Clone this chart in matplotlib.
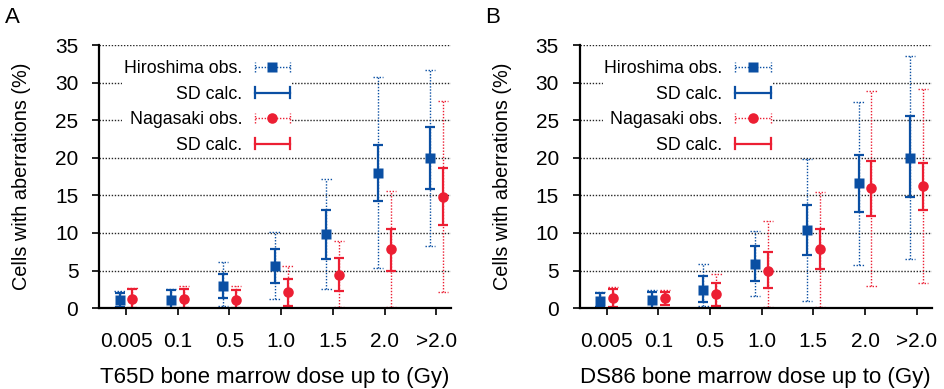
import numpy as np
import matplotlib
matplotlib.use('Agg')
import matplotlib.pyplot as plt
from matplotlib.lines import Line2D
from matplotlib.legend_handler import HandlerBase

plt.rcParams['font.family'] = ['Liberation Sans', 'DejaVu Sans']

doses = ['0.005', '0.1', '0.5', '1.0', '1.5', '2.0', '>2.0']

# T65D dosimetry
t65_hir = [1.07, 1.07, 3.0, 5.6, 9.9, 18.0, 20.0]
t65_hir_sd_lo = [0.2, 0.0, 1.4, 3.4, 6.6, 14.3, 15.9]
t65_hir_sd_hi = [2.0, 2.4, 4.5, 7.9, 13.1, 21.7, 24.1]
t65_hir_obs_lo = [0.1, 0.0, 0.3, 1.2, 2.5, 5.3, 8.3]
t65_hir_obs_hi = [2.3, 2.6, 6.2, 10.1, 17.2, 30.7, 31.7]

t65_nag = [1.25, 1.15, 1.07, 2.1, 4.4, 7.8, 14.8]
t65_nag_sd_lo = [0.0, 0.0, 0.0, 0.3, 2.3, 5.0, 11.0]
t65_nag_sd_hi = [2.5, 2.5, 2.4, 3.9, 6.7, 10.5, 18.7]
t65_nag_obs_lo = [0.0, 0.0, 0.0, 0.0, 0.1, 0.2, 2.1]
t65_nag_obs_hi = [2.65, 2.9, 2.9, 5.6, 8.9, 15.6, 27.5]

# DS86 dosimetry
ds86_hir = [0.97, 1.07, 2.4, 5.9, 10.35, 16.6, 20.0]
ds86_hir_sd_lo = [0.2, 0.0, 0.8, 3.55, 7.1, 12.75, 14.8]
ds86_hir_sd_hi = [2.0, 2.2, 4.3, 8.3, 13.7, 20.4, 25.5]
ds86_hir_obs_lo = [0.0, 0.0, 0.3, 1.6, 1.0, 5.8, 6.6]
ds86_hir_obs_hi = [2.2, 2.4, 5.9, 10.3, 19.9, 27.4, 33.6]

ds86_nag = [1.33, 1.33, 1.86, 5.0, 7.9, 16.0, 16.3]
ds86_nag_sd_lo = [0.2, 0.4, 0.3, 2.7, 5.2, 12.3, 13.1]
ds86_nag_sd_hi = [2.6, 2.2, 3.4, 7.4, 10.5, 19.6, 19.3]
ds86_nag_obs_lo = [0.0, 0.0, 0.0, 0.2, 0.1, 2.9, 3.4]
ds86_nag_obs_hi = [2.8, 2.4, 4.6, 11.6, 15.5, 28.9, 29.1]

BLUE = '#0a4fa3'
RED = '#ec1f33'
DOT = (0, (1, 1.2))
MS = {'s': 7.2, 'o': 7.6}


class Key:
    def __init__(self, color, ls, marker):
        self.color, self.ls, self.marker = color, ls, marker


class KeyHandler(HandlerBase):
    # horizontal error bar with end caps, gnuplot style
    def create_artists(self, legend, key, xd, yd, w, h, fs, trans):
        lw = 1.0 if key.ls != '-' else 1.6
        y = (h - yd) / 2
        x0, x1 = -xd, -xd + w
        c = 0.3 * fs
        arts = [Line2D([x0, x1], [y, y], color=key.color, ls=key.ls, lw=lw),
                Line2D([x0, x0], [y - c, y + c], color=key.color, ls=key.ls, lw=lw),
                Line2D([x1, x1], [y - c, y + c], color=key.color, ls=key.ls, lw=lw)]
        if key.marker:
            arts.append(Line2D([(x0 + x1) / 2], [y], color=key.color, ls='none',
                               marker=key.marker, ms=MS[key.marker], mec='none'))
        for a in arts:
            a.set_transform(trans)
        return arts


def series(ax, x, mean, sd_lo, sd_hi, obs_lo, obs_hi, color, marker):
    mean = np.array(mean)
    # observed spread: dotted
    ax.vlines(x, obs_lo, obs_hi, color=color, lw=1.0, linestyles=[DOT])
    ax.hlines(obs_lo, x - 0.1, x + 0.1, color=color, lw=1.0, linestyles=[DOT])
    ax.hlines(obs_hi, x - 0.1, x + 0.1, color=color, lw=1.0, linestyles=[DOT])
    # calculated SD: solid
    ax.errorbar(x, mean, yerr=[mean - np.array(sd_lo), np.array(sd_hi) - mean],
                fmt='none', ecolor=color, elinewidth=1.6, capsize=3.7, capthick=1.6)
    ax.plot(x, mean, ls='none', marker=marker, ms=MS[marker], color=color,
            mec='none', zorder=5, clip_on=False)


fig = plt.figure(figsize=(9.44, 3.89), dpi=100)
panels = [
    (0.105, 'A', 'T65D bone marrow dose up to (Gy)',
     (t65_hir, t65_hir_sd_lo, t65_hir_sd_hi, t65_hir_obs_lo, t65_hir_obs_hi),
     (t65_nag, t65_nag_sd_lo, t65_nag_sd_hi, t65_nag_obs_lo, t65_nag_obs_hi)),
    (0.614, 'B', 'DS86 bone marrow dose up to (Gy)',
     (ds86_hir, ds86_hir_sd_lo, ds86_hir_sd_hi, ds86_hir_obs_lo, ds86_hir_obs_hi),
     (ds86_nag, ds86_nag_sd_lo, ds86_nag_sd_hi, ds86_nag_obs_lo, ds86_nag_obs_hi)),
]

x = np.arange(len(doses))
for left, letter, xlabel, hir, nag in panels:
    ax = fig.add_axes([left, 0.208, 0.373, 0.676])
    for y in range(5, 36, 5):
        ax.axhline(y, color='0.15', lw=1.0, ls=DOT, zorder=0)
    series(ax, x - 0.125, *hir, BLUE, 's')
    series(ax, x + 0.125, *nag, RED, 'o')

    ax.set_xlim(-0.52, 6.29)
    ax.set_ylim(0, 35)
    ax.set_yticks(range(0, 36, 5))
    ax.set_xticks(x)
    ax.set_xticklabels(doses)
    for s in ('top', 'right'):
        ax.spines[s].set_visible(False)
    ax.spines['left'].set_linewidth(1.6)
    ax.spines['bottom'].set_linewidth(1.6)
    ax.tick_params(axis='both', direction='out', length=5, width=1.2,
                   labelsize=15)
    ax.tick_params(axis='x', pad=12)
    ax.tick_params(axis='y', pad=10)
    ax.set_ylabel('Cells with aberrations (%)', fontsize=14.3, labelpad=17)
    ax.set_xlabel(xlabel, fontsize=16, labelpad=12)

    keys = [Key(BLUE, DOT, 's'), Key(BLUE, '-', None),
            Key(RED, DOT, 'o'), Key(RED, '-', None)]
    labels = ['Hiroshima obs.', 'SD calc.', 'Nagasaki obs.', 'SD calc.']
    leg = ax.legend(keys, labels, handler_map={Key: KeyHandler()},
                    loc='upper left', bbox_to_anchor=(0.04, 0.983),
                    markerfirst=False, fontsize=12.8, handlelength=2.0,
                    handletextpad=0.7, labelspacing=0.48, borderpad=0.1,
                    frameon=True, fancybox=False, framealpha=1,
                    edgecolor='none', facecolor='white')
    leg.set_zorder(3)

    fig.text(left - 0.1, 0.955, letter, fontsize=16, va='center', ha='left')

fig.savefig('out.png', dpi=100)
